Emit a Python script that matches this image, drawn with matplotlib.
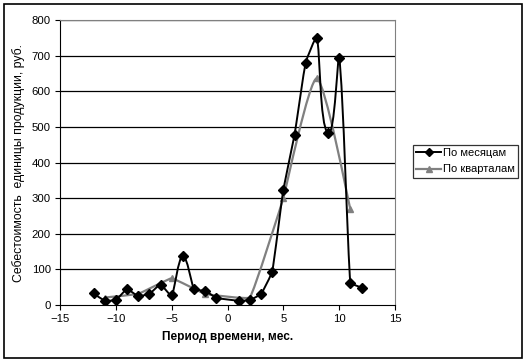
import numpy as np
import matplotlib.pyplot as plt
from matplotlib.path import Path
from matplotlib.patches import PathPatch, Rectangle
from matplotlib.lines import Line2D

plt.rcParams['font.family'] = ['Liberation Sans', 'DejaVu Sans']

# monthly series (no point at month 0)
months = [-12, -11, -10, -9, -8, -7, -6, -5, -4, -3, -2, -1, 1, 2, 3, 4, 5, 6, 7, 8, 9, 10, 11, 12]
cost_month = [33, 12, 14, 44, 25, 31, 57, 27, 138, 44, 40, 20, 12, 14, 31, 94, 324, 477, 680, 750, 482, 694, 63, 49]

# quarterly series
quarters = [-11, -8, -5, -2, 2, 5, 8, 11]
cost_quarter = [21, 31, 75, 31, 21, 300, 636, 269]

legend_labels = ['По месяцам', 'По кварталам']


def smooth_path(ax, x, y, t=0.2):
    # smoothed line drawn in screen space, control arms scaled by segment length
    tr = ax.transData
    inv = tr.inverted()
    p = tr.transform(np.column_stack([x, y]).astype(float))
    n = len(p)
    d = np.zeros_like(p)
    for i in range(n):
        a = p[max(i - 1, 0)]
        b = p[min(i + 1, n - 1)]
        v = b - a
        d[i] = v / np.hypot(*v)
    verts = [p[0]]
    codes = [Path.MOVETO]
    for i in range(n - 1):
        L = np.hypot(*(p[i + 1] - p[i]))
        verts += [p[i] + d[i] * L * t, p[i + 1] - d[i + 1] * L * t, p[i + 1]]
        codes += [Path.CURVE4] * 3
    return Path(inv.transform(np.array(verts)), codes)


fig = plt.figure(figsize=(5.28, 3.63), dpi=100)
W, H = 528, 363
ax = fig.add_axes([60 / W, 1 - 305 / H, 335 / W, 285 / H])

# outer chart border
fig.patches.append(Rectangle((4 / W, 1 - 358 / H), 518 / W, 354 / H,
                             transform=fig.transFigure, fill=False,
                             edgecolor='black', linewidth=1.2))

ax.set_xlim(-15, 15)
ax.set_ylim(0, 800)
ax.set_xticks(range(-15, 16, 5))
ax.set_yticks(range(0, 801, 100))
for y in range(100, 801, 100):
    ax.axhline(y, color='black', linewidth=0.9, zorder=0)

ax.add_patch(PathPatch(smooth_path(ax, quarters, cost_quarter, 0.06), fill=False,
                       edgecolor='#808080', linewidth=1.6, zorder=2))
ax.plot(quarters, cost_quarter, linestyle='none', marker='^', color='#808080',
        markersize=5, zorder=3)
ax.add_patch(PathPatch(smooth_path(ax, months, cost_month, 0.12), fill=False,
                       edgecolor='black', linewidth=1.4, zorder=4))
ax.plot(months, cost_month, linestyle='none', marker='D', color='black',
        markersize=5, zorder=5)

for s in ['top', 'right']:
    ax.spines[s].set_color('#808080')
for s in ['left', 'bottom']:
    ax.spines[s].set_color('black')
ax.tick_params(direction='out', length=3.5, width=0.8, labelsize=8.2, pad=3)

ax.set_xlabel('Период времени, мес.', fontsize=8.6, fontweight='bold', labelpad=5)
ax.set_ylabel('Себестоимость  единицы продукции, руб.', fontsize=8.8, labelpad=5)

handles = [Line2D([], [], color='black', marker='D', markersize=4, linewidth=1.4),
           Line2D([], [], color='#808080', marker='^', markersize=4, linewidth=1.6)]
leg = fig.legend(handles, legend_labels, loc='upper left',
                 bbox_to_anchor=(413 / W, 1 - 145 / H), fontsize=8,
                 frameon=True, fancybox=False, edgecolor='black',
                 handlelength=2.2, handletextpad=0.2, borderpad=0.3,
                 labelspacing=0.55, borderaxespad=0)
leg.get_frame().set_linewidth(0.9)

fig.savefig('out.png', dpi=100)
